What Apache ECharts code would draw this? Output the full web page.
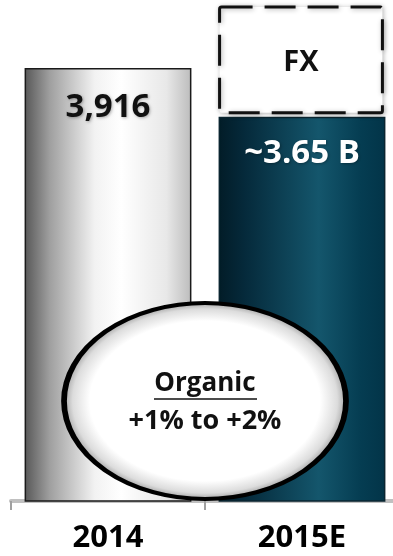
<!DOCTYPE html>
<html>
<head>
<meta charset="utf-8">
<style>
  html, body { margin: 0; padding: 0; background: #ffffff; overflow: hidden; }
  #wrap { width: 393px; height: 556px; overflow: hidden; }
  #chart { width: 399px; height: 556px; }
</style>
<script src="https://cdn.jsdelivr.net/npm/echarts@6/dist/echarts.min.js"></script>
</head>
<body>
<div id="wrap"><div id="chart"></div></div>
<script>
// Revenue bridge: 2014 actual vs 2015 estimate, with FX placeholder on top
const categories = ['2014', '2015E'];
const revenue = [3916, 3650];
const revenueLabels = ['3,916', '~3.65 B'];
const fxImpact = [null, 600];
const fxLabel = 'FX';
const organicTitle = 'Organic';
const organicRange = '+1% to +2%';

const FONT = '"Open Sans", "Liberation Sans", sans-serif';

const chart = echarts.init(document.getElementById('chart'), null, { renderer: 'canvas' });

const greyFill = new echarts.graphic.LinearGradient(0, 0, 1, 0, [
  { offset: 0, color: '#575757' },
  { offset: 0.15, color: '#9f9f9f' },
  { offset: 0.42, color: '#f2f2f2' },
  { offset: 0.58, color: '#ffffff' },
  { offset: 0.85, color: '#e8e8e8' },
  { offset: 1, color: '#bcbcbc' }
]);
const navyFill = new echarts.graphic.LinearGradient(0, 0, 1, 0, [
  { offset: 0, color: '#021c27' },
  { offset: 0.15, color: '#05293a' },
  { offset: 0.6, color: '#14566c' },
  { offset: 0.85, color: '#053d52' },
  { offset: 1, color: '#023448' }
]);

// FX rows: [category index, base value, top value]
const fxRows = fxImpact
  .map((v, i) => (v == null ? null : [i, revenue[i], revenue[i] + v]))
  .filter(Boolean);

const option = {
  animation: false,
  grid: { left: 11, right: 0, top: 7, bottom: 55 },
  xAxis: {
    type: 'category',
    data: categories,
    axisLine: { show: true, lineStyle: { color: '#c0c0c0', width: 4 } },
    axisTick: { show: true, length: 9, lineStyle: { color: '#a0a0a0', width: 2 } },
    axisLabel: {
      margin: 22,
      color: '#000000',
      fontFamily: FONT,
      fontWeight: 'bold',
      fontSize: 31
    },
    z: 1
  },
  yAxis: {
    type: 'value',
    min: 1550,
    max: 4250,
    show: false,
    splitLine: { show: false }
  },
  series: [
    {
      type: 'bar',
      name: 'Revenue',
      barWidth: '86%',
      z: 2,
      data: revenue.map((v, i) => ({
        value: v,
        itemStyle: {
          color: i === 0 ? greyFill : navyFill,
          borderColor: i === 0 ? '#1a1a1a' : '#0a2530',
          borderWidth: 1.5
        },
        label: {
          show: true,
          position: 'insideTop',
          distance: i === 0 ? 23 : 20,
          formatter: revenueLabels[i],
          fontFamily: FONT,
          fontWeight: 'bold',
          fontSize: 33,
          color: i === 0 ? '#111111' : '#ffffff',
          textShadowColor: 'rgba(0,0,0,0.3)',
          textShadowBlur: 3,
          textShadowOffsetX: 1,
          textShadowOffsetY: 1
        }
      }))
    },
    {
      // FX effect drawn as a dashed box stacked above the 2015E estimate
      type: 'custom',
      name: 'FX',
      z: 3,
      dimensions: ['cat', 'base', 'top'],
      encode: { x: 0, y: [1, 2] },
      data: fxRows,
      renderItem: function (params, api) {
        const idx = api.value(0);
        const base = api.coord([idx, api.value(1)]);
        const top = api.coord([idx, api.value(2)]);
        const w = api.size([1, 0])[0] * 0.86;
        const x = base[0] - w / 2 + 1;
        const y = top[1];
        const h = base[1] - top[1] - 4;
        return {
          type: 'group',
          children: [
            {
              type: 'rect',
              shape: { x: x, y: y, width: w - 4, height: h, r: 2 },
              style: {
                fill: '#ffffff',
                stroke: '#111111',
                lineWidth: 3,
                lineDash: [31, 12],
                shadowColor: 'rgba(0,0,0,0.3)',
                shadowBlur: 5,
                shadowOffsetX: 1,
                shadowOffsetY: 1
              }
            },
            {
              type: 'text',
              style: {
                x: base[0] - 1,
                y: y + h / 2 + 3,
                text: fxLabel,
                align: 'center',
                verticalAlign: 'middle',
                fill: '#111111',
                fontFamily: FONT,
                fontWeight: 'bold',
                fontSize: 29,
                shadowColor: 'rgba(0,0,0,0.3)',
                shadowBlur: 3,
                shadowOffsetX: 1,
                shadowOffsetY: 1
              }
            }
          ]
        };
      }
    }
  ],
  graphic: [
    {
      // Callout bubble: a circle stretched horizontally so its shading follows the ellipse
      type: 'circle',
      z: 10,
      x: 205,
      y: 401,
      scaleX: 141 / 98,
      shape: { cx: 0, cy: 0, r: 98 },
      style: {
        fill: new echarts.graphic.RadialGradient(0.5, 0.5, 0.5, [
          { offset: 0, color: '#ffffff' },
          { offset: 0.8, color: '#ffffff' },
          { offset: 0.92, color: '#dcdcdc' },
          { offset: 1, color: '#949494' }
        ]),
        stroke: '#000000',
        lineWidth: 4,
        strokeNoScale: true
      }
    },
    {
      type: 'text',
      z: 11,
      style: {
        x: 205,
        y: 384,
        text: organicTitle,
        align: 'center',
        verticalAlign: 'middle',
        fill: '#111111',
        fontFamily: FONT,
        fontWeight: 'bold',
        fontSize: 26
      }
    },
    {
      type: 'line',
      z: 11,
      shape: { x1: 154, y1: 399, x2: 257, y2: 399 },
      style: { stroke: '#111111', lineWidth: 1.5 }
    },
    {
      type: 'text',
      z: 11,
      style: {
        x: 205,
        y: 421,
        text: organicRange,
        align: 'center',
        verticalAlign: 'middle',
        fill: '#111111',
        fontFamily: FONT,
        fontWeight: 'bold',
        fontSize: 27
      }
    }
  ]
};

chart.setOption(option);
</script>
</body>
</html>
